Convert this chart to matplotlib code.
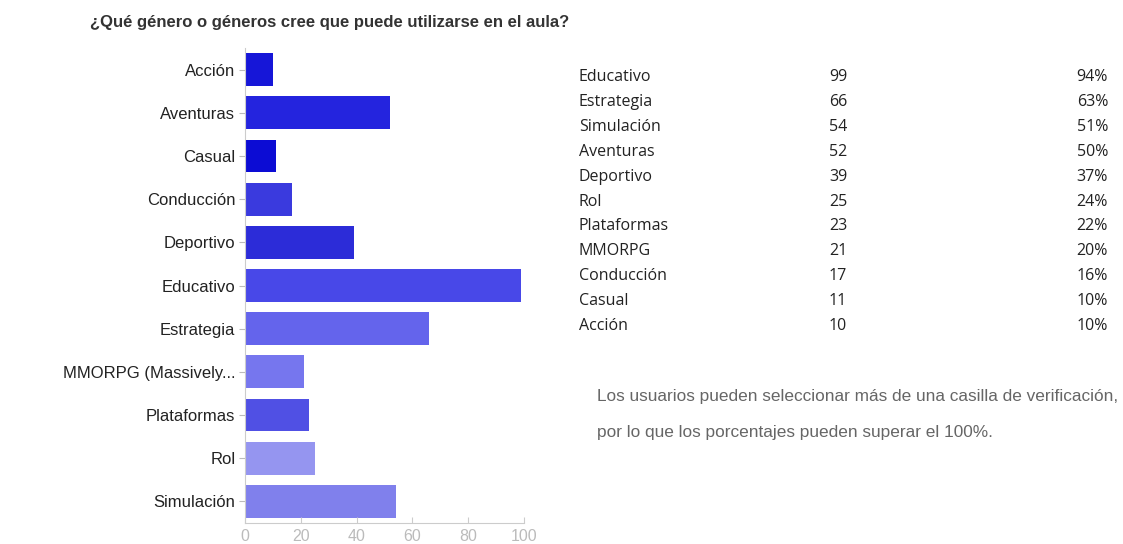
import matplotlib.pyplot as plt

# datos del gráfico (orden de las barras, de arriba a abajo)
genres = ["Acción", "Aventuras", "Casual", "Conducción", "Deportivo", "Educativo",
          "Estrategia", "MMORPG (Massively...", "Plataformas", "Rol", "Simulación"]
counts = [10, 52, 11, 17, 39, 99, 66, 21, 23, 25, 54]
bar_colors = ["#1616d8", "#2424de", "#0c0cd4", "#3a3ade", "#2c2cd8", "#4848e8",
              "#6464ec", "#7676ee", "#5050e4", "#9595f0", "#8080ec"]
xticks = [0, 20, 40, 60, 80, 100]

# tabla de la derecha
table_names = ["Educativo", "Estrategia", "Simulación", "Aventuras", "Deportivo", "Rol",
               "Plataformas", "MMORPG", "Conducción", "Casual", "Acción"]
table_counts = [99, 66, 54, 52, 39, 25, 23, 21, 17, 11, 10]
table_pcts = ["94%", "63%", "51%", "50%", "37%", "24%", "22%", "20%", "16%", "10%", "10%"]

title = "¿Qué género o géneros cree que puede utilizarse en el aula?"
note = ["Los usuarios pueden seleccionar más de una casilla de verificación,",
        "por lo que los porcentajes pueden superar el 100%."]

W, H = 1123, 544
fig = plt.figure(figsize=(W / 100, H / 100), dpi=100)
fig.patch.set_facecolor("white")

# ejes en pixeles: x 245..524, y 48..523
ax = fig.add_axes([245 / W, 1 - 523 / H, (524 - 245) / W, (523 - 48) / H])
y = list(range(len(genres)))
ax.barh(y, counts, height=0.76, color=bar_colors)
ax.set_ylim(len(genres) - 0.5, -0.5)
ax.set_xlim(0, 99.5)
ax.set_yticks(y)
ax.set_yticklabels(genres, family="Liberation Sans", fontsize=12, color="#222222")
ax.set_xticks(xticks)
ax.set_xticklabels([str(t) for t in xticks], family="Liberation Sans",
                   fontsize=11.5, color="#bbbbbb")
ax.tick_params(axis="y", length=4, color="#bbbbbb", pad=3)
ax.tick_params(axis="x", length=4, color="#cccccc", pad=4, direction="in")
for s in ["top", "right"]:
    ax.spines[s].set_visible(False)
ax.spines["left"].set_color("#cccccc")
ax.spines["bottom"].set_color("#cccccc")

fig.text(90 / W, 1 - 22 / H, title, family="Liberation Sans", fontsize=12,
         fontweight="bold", color="#333333", va="center", ha="left")

# tabla
for i, (n, c, p) in enumerate(zip(table_names, table_counts, table_pcts)):
    yy = 1 - (77 + i * 24.9) / H
    fig.text(579 / W, yy, n, family="Open Sans", fontsize=11.5, color="#222222", va="center")
    fig.text(838 / W, yy, str(c), family="Open Sans", fontsize=11.5, color="#222222",
             va="center", ha="center")
    fig.text(1108 / W, yy, p, family="Open Sans", fontsize=11.5, color="#222222",
             va="center", ha="right")

for j, line in enumerate(note):
    fig.text(597 / W, 1 - (396 + j * 36) / H, line, family="Liberation Sans",
             fontsize=12.4, color="#666666", va="center")

fig.savefig("out.png", dpi=100, facecolor="white")
